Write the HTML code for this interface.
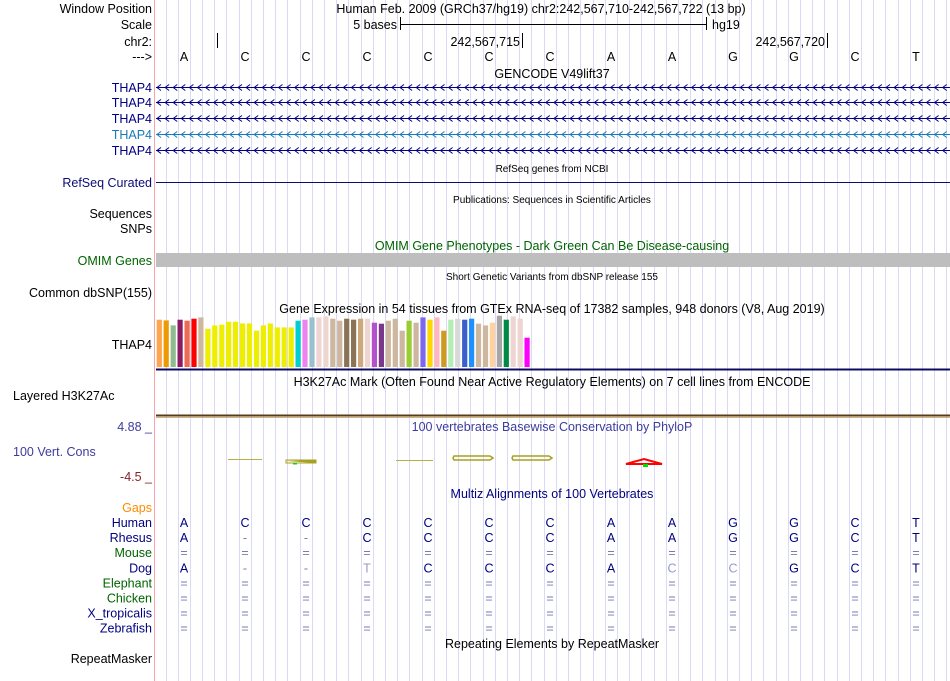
<!DOCTYPE html>
<html><head><meta charset="utf-8"><style>
body{margin:0;background:#fff;}
svg{display:block;font-family:"Liberation Sans",sans-serif;}
</style></head><body>
<svg id="s" width="950" height="681" xmlns="http://www.w3.org/2000/svg">
<g id="guides"></g>
<line x1="154.5" y1="0" x2="154.5" y2="681" stroke="#f4a6a6"/>
<g font-size="12.5" text-anchor="end">
<text x="152" y="13">Window Position</text>
<text x="152" y="29">Scale</text>
<text x="152" y="46">chr2:</text>
<text x="152" y="61">---&gt;</text>
<text x="152" y="92" fill="#000080">THAP4</text>
<text x="152" y="107" fill="#000080">THAP4</text>
<text x="152" y="123" fill="#000080">THAP4</text>
<text x="152" y="139" fill="#1a7ab8">THAP4</text>
<text x="152" y="155" fill="#000080">THAP4</text>
<text x="152" y="187" fill="#0c0c78">RefSeq Curated</text>
<text x="152" y="218">Sequences</text>
<text x="152" y="233">SNPs</text>
<text x="152" y="265" fill="#006400">OMIM Genes</text>
<text x="152" y="297">Common dbSNP(155)</text>
<text x="152" y="349">THAP4</text>
<text x="152" y="456" fill="#3c3c9c" text-anchor="start" dx="-139">100 Vert. Cons</text>
<text x="152" y="431" fill="#3c3c9c">4.88 _</text>
<text x="152" y="481" fill="#8b2020">-4.5 _</text>
<text x="152" y="512" fill="#ff8c00">Gaps</text>
<text x="152" y="663">RepeatMasker</text>
</g>
<text x="13" y="400" font-size="12.5">Layered H3K27Ac</text>
<g id="species" font-size="12.5" text-anchor="end"></g>
<g font-size="12.5" text-anchor="middle">
<text x="541" y="13">Human Feb. 2009 (GRCh37/hg19)   chr2:242,567,710-242,567,722 (13 bp)</text>
<text x="552" y="78">GENCODE V49lift37</text>
<text x="552" y="172" font-size="10">RefSeq genes from NCBI</text>
<text x="552" y="203" font-size="10">Publications: Sequences in Scientific Articles</text>
<text x="552" y="250" fill="#006400">OMIM Gene Phenotypes - Dark Green Can Be Disease-causing</text>
<text x="552" y="280" font-size="10">Short Genetic Variants from dbSNP release 155</text>
<text x="552" y="313">Gene Expression in 54 tissues from GTEx RNA-seq of 17382 samples, 948 donors (V8, Aug 2019)</text>
<text x="552" y="386">H3K27Ac Mark (Often Found Near Active Regulatory Elements) on 7 cell lines from ENCODE</text>
<text x="552" y="431" fill="#3c3c9c">100 vertebrates Basewise Conservation by PhyloP</text>
<text x="552" y="498" fill="#000080">Multiz Alignments of 100 Vertebrates</text>
<text x="552" y="648">Repeating Elements by RepeatMasker</text>
</g>
<g font-size="12.5">
<text x="397" y="29" text-anchor="end">5 bases</text>
<line x1="400.5" y1="17" x2="400.5" y2="30" stroke="#000"/>
<line x1="400" y1="24.5" x2="706" y2="24.5" stroke="#000"/>
<line x1="706.5" y1="17" x2="706.5" y2="30" stroke="#000"/>
<text x="712" y="29">hg19</text>
<line x1="217.5" y1="33" x2="217.5" y2="48" stroke="#000"/>
<text x="520" y="46" text-anchor="end">242,567,715</text>
<line x1="522.5" y1="33" x2="522.5" y2="48" stroke="#000"/>
<text x="825" y="46" text-anchor="end">242,567,720</text>
<line x1="827.5" y1="33" x2="827.5" y2="48" stroke="#000"/>
</g>
<g id="bases" font-size="12.5" text-anchor="middle"></g>
<g id="genes"></g>
<line x1="156" y1="182.5" x2="950" y2="182.5" stroke="#0c0c78"/>
<rect x="156" y="253" width="794" height="14" fill="#bebebe"/>
<g id="gtex"></g>
<line x1="156" y1="369.5" x2="950" y2="369.5" stroke="#0c0c60" stroke-width="2"/>
<line x1="156" y1="415.5" x2="950" y2="415.5" stroke="#5a3a18" stroke-width="2"/>
<line x1="156" y1="417.5" x2="950" y2="417.5" stroke="#d8b070" stroke-width="1"/>
<g>
<line x1="228" y1="459.5" x2="262" y2="459.5" stroke="#b8b040" stroke-width="1"/>
<path d="M286,461 L316,460 L316,463 Z" fill="#a8a020"/><rect x="286" y="460" width="30" height="3" fill="none" stroke="#a8a020"/>
<rect x="293" y="463" width="4" height="1.5" fill="#00e000"/>
<line x1="396" y1="460.5" x2="433" y2="460.5" stroke="#b8b040"/>
<path d="M454,456 L490,456 L493,458 L490,460 L454,460 L453,458Z" fill="none" stroke="#a8a020" stroke-width="1.5"/>
<path d="M513,456 L549,456 L552,458 L549,460 L513,460 L512,458Z" fill="none" stroke="#a8a020" stroke-width="1.5"/>
<path d="M626,464 L662,464 L644,459 Z" fill="none" stroke="#f00" stroke-width="2"/>
<rect x="643" y="464" width="5" height="3" fill="#00e000"/>
</g>
<g id="aln" font-size="12.5" text-anchor="middle"></g>
<script>
const NS="http://www.w3.org/2000/svg";
function mk(t,a,p){const e=document.createElementNS(NS,t);for(const k in a)e.setAttribute(k,a[k]);p.appendChild(e);return e;}
const g=document.getElementById('guides');
for(let x=165.5;x<950;x+=12.2){const l=mk('line',{x1:Math.round(x)+0.5,y1:0,x2:Math.round(x)+0.5,y2:681,stroke:'#dadaf6'},g);

}
const refBases=['A','C','C','C','C','C','C','A','A','G','G','C','T'];
const bx=i=>184+i*61;
const bg=document.getElementById('bases');
refBases.forEach((b,i)=>{const t=mk('text',{x:bx(i),y:61},bg);t.textContent=b;

});
const gg=document.getElementById('genes');
[[87,'#000080'],[102,'#000080'],[118,'#000080'],[134,'#1a7ab8'],[150,'#000080']].forEach(([y,c],i)=>{
 const grp=mk('g',{},gg);
 
 
 let d='M156,'+(y+0.5)+' L950,'+(y+0.5);
 for(let x=157;x<948;x+=8.1){d+=' M'+(x+4).toFixed(1)+','+(y-2.5)+' L'+x.toFixed(1)+','+(y+0.5)+' L'+(x+4).toFixed(1)+','+(y+3.5);}
 mk('path',{d:d,fill:'none',stroke:c,'stroke-width':1},grp);
});
// GTEx expression values (relative units, max ~154)
const gtexValues=[142,140,125,142,139,145,149,115,125,127,136,136,131,131,109,125,131,119,119,119,139,142,149,149,152,145,139,145,142,145,145,133,130,139,145,109,139,133,149,142,149,109,142,145,142,145,130,125,133,154,142,152,145,88];
const gtexColors=['#FFA54F','#EE9A00','#8FBC8F','#8B1C62','#EE6A50','#FF0000','#CDB79E','#EEEE00','#EEEE00','#EEEE00','#EEEE00','#EEEE00','#EEEE00','#EEEE00','#EEEE00','#EEEE00','#EEEE00','#EEEE00','#EEEE00','#EEEE00','#00CED1','#EE82EE','#9AC0CD','#EED5D2','#EED5D2','#CDB79E','#CDB79E','#8B7355','#8B7355','#CDAA7D','#EED5D2','#B452CD','#7A378B','#CDB79E','#CDB79E','#CDB79E','#9ACD32','#CDB79E','#7B68EE','#FFD700','#FFB6C1','#CD9B1D','#B4EEB4','#D9D9D9','#3A5FCD','#1E90FF','#CDB79E','#CDB79E','#FFD39B','#A6A6A6','#008B45','#EED5D2','#EED5D2','#FF00FF'];
const gmax=154, gBase=367, gH=51.3;
const gx=i=>156.7+i*6.94;
const gy=v=>gBase-v/gmax*gH;
const gt=document.getElementById('gtex');
gtexValues.forEach((v,i)=>{const r=mk('rect',{x:gx(i).toFixed(1),y:gy(v).toFixed(1),width:5.2,height:(gBase-gy(v)).toFixed(1),fill:gtexColors[i]},gt);

});
const species=['Human','Rhesus','Mouse','Dog','Elephant','Chicken','X_tropicalis','Zebrafish'];
const spColors=['#000080','#000080','#006400','#000080','#006400','#006400','#000080','#000080'];
const alnRows=['ACCCCCCAAGGCT','A--CCCCAAGGCT','=============','A--TCCCACCGCT','=============','=============','=============','============='];
const sg=document.getElementById('species'), ag=document.getElementById('aln');
species.forEach((s,r)=>{const y=527+r*15.1;
 const t=mk('text',{x:152,y:y,fill:spColors[r]},sg);t.textContent=s;
 
 
 [...alnRows[r]].forEach((c,i)=>{let col='#000080';
  if(c==='='||c==='-')col='#7a7ab0';
  if(r===3&&(i===3||i===8||i===9))col='#9a9ac8';
  const a=mk('text',{x:bx(i),y:y,fill:col},ag);a.textContent=c;
  
  });
});
</script>
</svg>
</body></html>
